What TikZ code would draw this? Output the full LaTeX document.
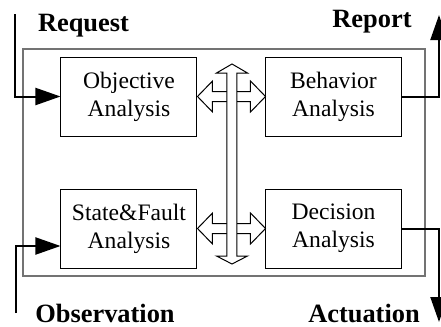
\documentclass[tikz,border=0pt]{standalone}
\usepackage{fontspec}
\setmainfont{Liberation Serif}
\usetikzlibrary{arrows.meta}

\begin{document}
\begin{tikzpicture}[x=0.5pt,y=-0.5pt,
        unit/.style={draw,line width=0.5pt,minimum width=68pt,minimum height=39.5pt,
            inner sep=0pt,align=center,font=\fontsize{11.8}{14}\selectfont},
        lbl/.style={anchor=base,font=\fontsize{13.2}{15}\selectfont\bfseries},
        feed/.style={line width=1pt,-{Triangle[length=12.5pt,width=8.5pt]}},
        hollow/.style={draw,fill=white,line width=0.5pt,line join=miter}]
                \useasboundingbox (0,0) rectangle (441,327);
                
                \draw[black!55,line width=0.8pt] (23,49) rectangle (425,276);
                
                \node[unit] (obj) at (129,96.5) {Objective\\Analysis};
                \node[unit] (beh) at (333.5,96.5) {Behavior\\Analysis};
                \node[unit] (state) at (129,228.5) {State\&Fault\\Analysis};
                \node[unit] (dec) at (333.5,228.5) {Decision\\Analysis};
                
                \node[lbl] (req) at (83.5,31) {Request};
                \node[lbl] (rep) at (372,27) {Report};
                \node[lbl] (obs) at (105,322) {Observation};
                \node[lbl] (act) at (364,322) {Actuation};
                
                \coordinate (reqin) at (15,14);
                \coordinate (obsin) at (16,313);
                \coordinate (repout) at (439,15);
                \coordinate (actout) at (439,322);
                \coordinate (vtip) at (232,64);
                
                \draw[feed] (reqin) |- (obj.west);
                \draw[feed] (obsin) |- ([yshift=-8.75pt]state.west);
                \draw[feed] (beh.east) -| (repout);
                \draw[feed] (dec.east) -| (actout);
                
                \draw[hollow] (obj.east) -- ++(15,-15.5) -- ++(0,10.5) -- ++(38,0) -- ++(0,-10.5)
                    -- ++(15,15.5) -- ++(-15,15.5) -- ++(0,-10.5) -- ++(-38,0) -- ++(0,10.5) -- cycle;
                \draw[hollow] (state.east) -- ++(15,-15.5) -- ++(0,10.5) -- ++(38,0) -- ++(0,-10.5)
                    -- ++(15,15.5) -- ++(-15,15.5) -- ++(0,-10.5) -- ++(-38,0) -- ++(0,10.5) -- cycle;
                \draw[hollow] (vtip) -- ++(15.5,9) -- ++(-10.5,0) -- ++(0,183) -- ++(10.5,0)
                    -- ++(-15.5,8) -- ++(-15.5,-8) -- ++(10.5,0) -- ++(0,-183) -- ++(-10.5,0) -- cycle;
            \end{tikzpicture}
\end{document}
